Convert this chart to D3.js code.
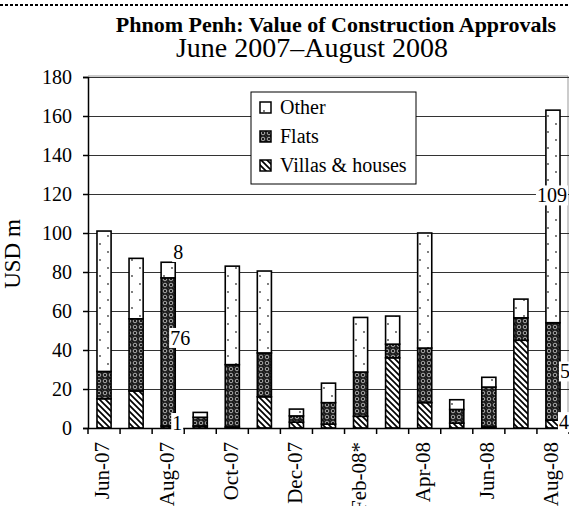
<!DOCTYPE html>
<html lang="en">
<head>
    <meta charset="UTF-8">
    <title>Phnom Penh construction approvals</title>
    <style>
        body { margin: 0; background: #fff; }
        svg text { font-family: "Liberation Serif", "Times New Roman", serif; fill: #000; }
    </style>
</head>
<body>
    <script src="https://d3js.org/d3.v7.min.js"></script>
    <svg id="svg"></svg>
    <script>
        var months = ["Jun-07", "Jul-07", "Aug-07", "Sep-07", "Oct-07", "Nov-07", "Dec-07", "Jan-08",
            "Feb-08*", "Mar-08", "Apr-08", "May-08", "Jun-08", "Jul-08", "Aug-08"];
        var villas = [15, 19, 1, 1, 0.5, 16, 3, 2, 6, 36, 13, 2.5, 0.5, 45, 4];
        var flats = [14, 37, 76, 4.5, 32, 22.5, 3.2, 11, 22.7, 7, 28, 7, 20.5, 11.5, 50];
        var other = [72, 31, 8, 2.5, 50.5, 42, 3.5, 10, 28, 14.4, 59, 5, 5, 9.6, 109];
        var seriesNames = ["Other", "Flats", "Villas & houses"];
        var yTicks = [0, 20, 40, 60, 80, 100, 120, 140, 160, 180];
        var shownMonths = ["Jun-07", "Aug-07", "Oct-07", "Dec-07", "Feb-08*", "Apr-08", "Jun-08", "Aug-08"];

        var w = 569, h = 506;
        var svg = d3.select("svg").attr("width", w).attr("height", h);

        // patterns
        var defs = svg.append("defs");
        var pOther = defs.append("pattern").attr("id", "p-other")
            .attr("patternUnits", "userSpaceOnUse").attr("width", 16).attr("height", 16);
        pOther.append("rect").attr("width", 16).attr("height", 16).attr("fill", "#fff");
        pOther.append("circle").attr("cx", 4).attr("cy", 4).attr("r", 0.9).attr("fill", "#444");
        pOther.append("circle").attr("cx", 12).attr("cy", 12).attr("r", 0.9).attr("fill", "#444");

        var pFlats = defs.append("pattern").attr("id", "p-flats")
            .attr("patternUnits", "userSpaceOnUse").attr("width", 6).attr("height", 6);
        pFlats.append("rect").attr("width", 6).attr("height", 6).attr("fill", "#1a1a1a");
        pFlats.append("circle").attr("cx", 3).attr("cy", 3).attr("r", 1.8).attr("fill", "none")
            .attr("stroke", "#cfcfcf").attr("stroke-width", 0.8);
        pFlats.append("circle").attr("cx", 0).attr("cy", 0).attr("r", 0.6).attr("fill", "#888");
        pFlats.append("circle").attr("cx", 6).attr("cy", 6).attr("r", 0.6).attr("fill", "#888");

        var pVillas = defs.append("pattern").attr("id", "p-villas")
            .attr("patternUnits", "userSpaceOnUse").attr("width", 6).attr("height", 6);
        pVillas.append("rect").attr("width", 6).attr("height", 6).attr("fill", "#fff");
        pVillas.append("path").attr("d", "M0,0L6,6M-2,4L2,8M4,-2L8,2")
            .attr("stroke", "#000").attr("stroke-width", 1.7);

        var fills = { "Other": "url(#p-other)", "Flats": "url(#p-flats)", "Villas & houses": "url(#p-villas)" };

        // top dashed rule
        svg.append("line").attr("x1", 0).attr("x2", w).attr("y1", 5).attr("y2", 5)
            .attr("stroke", "#000").attr("stroke-width", 2).attr("stroke-dasharray", "3,2");

        svg.append("text").attr("x", 336).attr("y", 32).attr("text-anchor", "middle")
            .style("font-size", "22px").style("font-weight", "bold")
            .text("Phnom Penh: Value of Construction Approvals");
        svg.append("text").attr("x", 312).attr("y", 57).attr("text-anchor", "middle")
            .style("font-size", "28px")
            .text("June 2007\u2013August 2008");

        var plotL = 88, plotR = 569, plotT = 77, plotB = 428;
        var x = d3.scaleBand().domain(months).range([plotL, plotR]).paddingInner(0.56).paddingOuter(0.28);
        var y = d3.scaleLinear().domain([0, 180]).range([plotB, plotT]);

        // frame
        svg.append("path").attr("d", "M" + plotL + "," + (plotT - 1) + "H" + (w - 1) + "V" + plotB)
            .attr("fill", "none").attr("stroke", "#999").attr("stroke-width", 1);

        // gridlines
        svg.append("g").selectAll("line").data(yTicks.slice(1)).enter().append("line")
            .attr("x1", plotL).attr("x2", plotR)
            .attr("y1", function (d) { return y(d) + 0.5; })
            .attr("y2", function (d) { return y(d) + 0.5; })
            .attr("stroke", "#333").attr("stroke-width", 1);

        // stacked bars
        var table = months.map(function (m, i) {
            return { month: m, "Villas & houses": villas[i], "Flats": flats[i], "Other": other[i] };
        });
        var stack = d3.stack().keys(["Villas & houses", "Flats", "Other"])(table);

        var layers = svg.append("g").selectAll("g").data(stack).enter().append("g")
            .attr("fill", function (d) { return fills[d.key]; });
        layers.selectAll("rect").data(function (d) { return d; }).enter().append("rect")
            .attr("x", function (d) { return x(d.data.month); })
            .attr("width", x.bandwidth())
            .attr("y", function (d) { return y(d[1]); })
            .attr("height", function (d) { return y(d[0]) - y(d[1]); })
            .attr("stroke", "#000").attr("stroke-width", 1.6);

        // axes
        var yAxis = svg.append("g").attr("transform", "translate(" + plotL + ",0)")
            .call(d3.axisLeft(y).tickValues(yTicks).tickSize(5).tickPadding(11));
        yAxis.select(".domain").attr("stroke", "#000").attr("stroke-width", 1.5);
        yAxis.selectAll("text").style("font-size", "20px").attr("font-family", null);
        yAxis.selectAll("line").attr("stroke", "#000").attr("stroke-width", 1.5);

        var xAxis = svg.append("g").attr("transform", "translate(0," + plotB + ")")
            .call(d3.axisBottom(x).tickSize(0).tickPadding(0)
                .tickFormat(function (d) { return shownMonths.indexOf(d) >= 0 ? d : ""; }));
        xAxis.select(".domain").attr("stroke", "#000").attr("stroke-width", 1.5);
        xAxis.selectAll("text").style("font-size", "21px").attr("font-family", null)
            .attr("text-anchor", "end").attr("transform", "rotate(-90)")
            .attr("x", -14).attr("y", -2).attr("dy", "0.35em");
        xAxis.selectAll(".bound").data(d3.range(months.length + 1)).enter().append("line")
            .attr("class", "bound")
            .attr("x1", function (i) { return plotL + i * x.step(); })
            .attr("x2", function (i) { return plotL + i * x.step(); })
            .attr("y1", 0).attr("y2", 6)
            .attr("stroke", "#000").attr("stroke-width", 1.5);

        svg.append("text").attr("transform", "translate(20,254) rotate(-90)")
            .attr("text-anchor", "middle").style("font-size", "23px").text("USD m");

        // value labels
        var labels = [
            { i: 2, key: "Other", dx: 10, dy: -18 },
            { i: 2, key: "Flats", dx: 12, dy: -14 },
            { i: 2, key: "Villas & houses", dx: 9, dy: -4 },
            { i: 14, key: "Other", dx: -1, dy: -21 },
            { i: 14, key: "Flats", dx: 17, dy: 0 },
            { i: 14, key: "Villas & houses", dx: 11, dy: -2 }
        ];
        var lg = svg.append("g");
        labels.forEach(function (l) {
            var seg = stack.find(function (s) { return s.key === l.key; })[l.i];
            var cx = x(months[l.i]) + x.bandwidth() / 2 + l.dx;
            var cy = y((seg[0] + seg[1]) / 2) + l.dy;
            var g = lg.append("g");
            var t = g.append("text").attr("x", cx).attr("y", cy).attr("dy", "0.35em")
                .attr("text-anchor", "middle").style("font-size", "20px")
                .text(d3.format("d")(seg[1] - seg[0]));
            var b = t.node().getBBox();
            g.insert("rect", "text").attr("x", b.x - 1).attr("y", b.y + 1)
                .attr("width", b.width + 2).attr("height", b.height - 2).attr("fill", "#fff");
        });

        // legend
        var leg = svg.append("g").attr("transform", "translate(251,92)");
        leg.append("rect").attr("width", 165).attr("height", 92)
            .attr("fill", "#fff").attr("stroke", "#000").attr("stroke-width", 1);
        var items = leg.selectAll(".item").data(seriesNames).enter().append("g")
            .attr("class", "item")
            .attr("transform", function (d, i) { return "translate(9," + (15 + i * 29) + ")"; });
        items.append("rect").attr("x", 0).attr("y", -5).attr("width", 11).attr("height", 11)
            .attr("fill", function (d) { return fills[d]; })
            .attr("stroke", "#000").attr("stroke-width", 1.5);
        items.append("text").attr("x", 20).attr("y", 0).attr("dy", "0.35em")
            .style("font-size", "20px").text(function (d) { return d; });
    </script>
</body>
</html>
